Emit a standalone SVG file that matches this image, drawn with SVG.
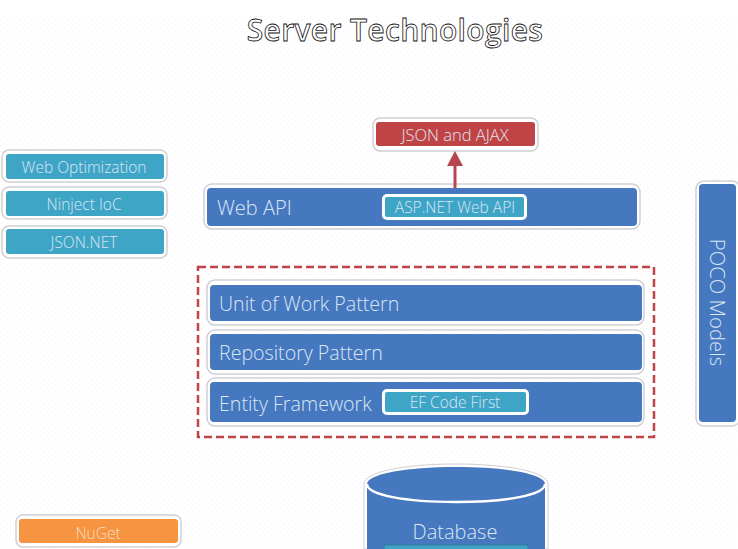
<svg xmlns="http://www.w3.org/2000/svg" width="738" height="549" viewBox="0 0 738 549">
<style>
text{font-family:"Open Sans","Liberation Sans",sans-serif;font-weight:300;fill:#dbe6f4}
.o{fill:#fff;stroke:#cfcfd6;stroke-width:1.5}
.blue{fill:#4578bf}.teal{fill:#3fa5c6}.red{fill:#c04445}.orange{fill:#f79441}
.w{fill:#fff;stroke:none}
.s{font-size:15.5px;text-anchor:middle}
.l{font-size:19.6px}
</style>
<defs>
<pattern id="dots" width="6" height="6" patternUnits="userSpaceOnUse"><rect x="1" y="1" width="1" height="1" fill="#fbe9fb"/><rect x="4" y="4" width="1" height="1" fill="#f3f3fb"/></pattern>
<marker id="ah" markerUnits="userSpaceOnUse" markerWidth="15" markerHeight="16" refX="1" refY="8" orient="auto" viewBox="0 0 15 16"><path d="M15 8L0 16V0Z" fill="#b8454c"/></marker>
</defs>
<rect width="738" height="549" fill="#fff"/>
<rect y="14" width="738" height="535" fill="url(#dots)"/>
<text id="title" x="395" y="41" text-anchor="middle" style="font-size:30px;font-weight:600;fill:#fff;stroke:#111;stroke-width:.8;letter-spacing:.35px">Server Technologies</text>
<g id="web-optimization"><rect class="o" x="2" y="150" width="165" height="32" rx="7"/><rect class="teal" x="6" y="154" width="158" height="25" rx="3"/><text class="s" x="84" y="173">Web Optimization</text></g>
<g id="ninject"><rect class="o" x="2" y="187" width="165" height="32" rx="7"/><rect class="teal" x="6" y="191" width="158" height="25" rx="3"/><text class="s" x="84" y="210">Ninject IoC</text></g>
<g id="json-net"><rect class="o" x="2" y="226" width="165" height="32" rx="7"/><rect class="teal" x="6" y="229" width="158" height="25" rx="3"/><text class="s" x="84" y="248">JSON.NET</text></g>
<g id="json-ajax"><rect class="o" x="373" y="118" width="165" height="33" rx="7"/><rect class="red" x="376" y="122" width="159" height="24" rx="3"/><text class="s" x="455" y="141" style="font-size:16.5px">JSON and AJAX</text></g>
<g id="web-api"><rect class="o" x="204" y="184" width="436" height="45" rx="8"/><rect class="blue" x="207" y="188" width="430" height="38" rx="4"/><text class="l" x="217" y="215" style="font-size:20px">Web API</text>
<rect class="w" x="382" y="194" width="145" height="26" rx="5"/><rect class="teal" x="385" y="197" width="139" height="20" rx="2"/><text class="s" x="455" y="213">ASP.NET Web API</text></g>
<g id="poco"><rect class="o" x="696" y="181" width="44" height="245" rx="8"/><rect class="blue" x="699" y="184" width="37" height="238" rx="4"/><text x="0" y="0" text-anchor="middle" transform="translate(710 302.500) rotate(90)" style="font-size:20.3px">POCO Models</text></g>
<rect id="layer-box" x="198" y="267" width="456" height="170" fill="none" stroke="#c04445" stroke-width="2.500" stroke-dasharray="8 4"/>
<g id="unit-of-work"><rect class="o" x="207" y="280" width="437" height="45" rx="8"/><rect class="blue" x="210" y="285" width="432" height="36" rx="4"/><text class="l" x="219" y="311">Unit of Work Pattern</text></g>
<g id="repository"><rect class="o" x="207" y="330" width="437" height="44" rx="8"/><rect class="blue" x="210" y="334" width="432" height="36" rx="4"/><text class="l" x="219" y="360">Repository Pattern</text></g>
<g id="entity-framework"><rect class="o" x="207" y="378" width="437" height="48" rx="8"/><rect class="blue" x="210" y="382" width="432" height="40" rx="4"/><text class="l" x="219" y="411">Entity Framework</text>
<rect class="w" x="382" y="389" width="147" height="26" rx="5"/><rect class="teal" x="385" y="392" width="141" height="20" rx="2"/><text class="s" x="455" y="408">EF Code First</text></g>
<g id="database"><path d="M364 484C364 472 404 464 456 464S548 472 548 484V549H364Z" fill="#fff" stroke="#cfcfd6" stroke-width="1"/><path d="M367 484C367 474 406 467 456 467S545 474 545 484V549H367Z" fill="#4578bf"/><path d="M367 484C367 495 406 502 456 502S545 495 545 484" fill="none" stroke="#fff" stroke-width="2.500"/><text x="455" y="539" text-anchor="middle" style="font-size:20px">Database</text>
<rect x="384" y="545" width="144" height="6" rx="2" fill="#3fa5c6" stroke="#2f7f95"/></g>
<g id="nuget"><rect class="o" x="16" y="515" width="165" height="32" rx="7"/><rect class="orange" x="19" y="519" width="159" height="24" rx="3"/><text class="s" x="98" y="539" style="fill:#fcdcc0">NuGet</text></g>
<g id="connectors"><path d="M455 188V165" fill="none" stroke="#b8454c" stroke-width="3" marker-end="url(#ah)"/></g>
</svg>
